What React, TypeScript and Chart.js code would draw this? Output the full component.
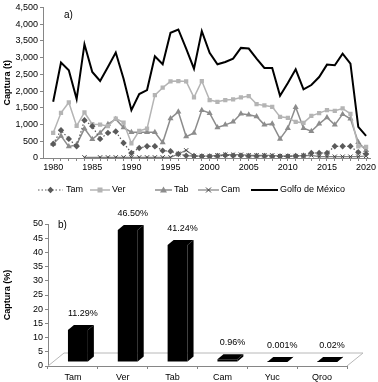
import React, { useEffect, useRef } from 'react';
import { Chart, registerables } from 'chart.js';
Chart.register(...registerables);

const years = [1980, 1981, 1982, 1983, 1984, 1985, 1986, 1987, 1988, 1989, 1990, 1991, 1992, 1993, 1994, 1995, 1996, 1997, 1998, 1999, 2000, 2001, 2002, 2003, 2004, 2005, 2006, 2007, 2008, 2009, 2010, 2011, 2012, 2013, 2014, 2015, 2016, 2017, 2018, 2019, 2020];
const tam = [420, 830, 570, 350, 1130, 950, 570, 750, 790, 450, 150, 300, 350, 350, 220, 200, 120, 70, 60, 50, 50, 60, 80, 70, 70, 60, 60, 60, 50, 50, 50, 60, 70, 150, 150, 150, 350, 350, 350, 170, 120];
const ver = [750, 1350, 1660, 960, 1360, 1010, 1000, 950, 1180, 1060, 440, 810, 880, 1880, 2100, 2290, 2300, 2290, 1810, 2300, 1730, 1680, 1730, 1750, 1810, 1850, 1610, 1570, 1530, 1230, 1200, 1080, 1050, 1260, 1340, 1430, 1410, 1480, 1320, 350, 330];
const tab = [420, 660, 340, 400, 880, 560, 750, 1010, 1160, 910, 770, 770, 770, 770, 460, 1180, 1380, 640, 750, 1430, 1340, 910, 990, 1080, 1320, 1290, 1240, 990, 1020, 570, 890, 1520, 890, 800, 1020, 1210, 990, 1310, 1170, 470, 230];
const cam = [null, null, null, null, 20, null, 20, 20, 20, 20, 20, 20, 20, 20, 20, 20, 120, 230, 60, 60, 60, 80, 100, 100, 100, 80, 80, 80, 80, 60, 60, 60, 70, 80, 40, 40, 40, 40, 40, 40, 60];
const golfo = [1680, 2850, 2620, 1760, 3400, 2570, 2300, 2720, 3150, 2370, 1430, 1910, 2030, 3040, 2800, 3740, 3840, 3270, 2670, 3790, 3140, 2800, 2870, 2970, 3290, 3270, 2970, 2690, 2690, 1860, 2240, 2650, 2050, 2180, 2420, 2790, 2770, 3120, 2820, 930, 660];
const yTicksA = [0, 500, 1000, 1500, 2000, 2500, 3000, 3500, 4000, 4500];

const states = ['Tam', 'Ver', 'Tab', 'Cam', 'Yuc', 'Qroo'];
const pct = [11.29, 46.5, 41.24, 0.96, 0.001, 0.02];
const pctLabels = ['11.29%', '46.50%', '41.24%', '0.96%', '0.001%', '0.02%'];
const yTicksB = [0, 5, 10, 15, 20, 25, 30, 35, 40, 45, 50];

const FONT = "'Liberation Sans', Arial, sans-serif";
const AXIS = '#868686';

function toPts(arr: (number | null)[]) {
  return years.map((y, i) => ({ x: y, y: arr[i] }));
}

function drawMarker(ctx: CanvasRenderingContext2D, style: string, x: number, y: number, color: string) {
  ctx.save();
  ctx.fillStyle = color;
  ctx.strokeStyle = color;
  ctx.beginPath();
  if (style === 'rectRot') {
    const r = 3.2;
    ctx.moveTo(x, y - r); ctx.lineTo(x + r, y); ctx.lineTo(x, y + r); ctx.lineTo(x - r, y); ctx.closePath(); ctx.fill();
  } else if (style === 'rect') {
    ctx.fillRect(x - 2.5, y - 2.5, 5, 5);
  } else if (style === 'triangle') {
    ctx.moveTo(x, y - 3.5); ctx.lineTo(x + 3.5, y + 2.5); ctx.lineTo(x - 3.5, y + 2.5); ctx.closePath(); ctx.fill();
  } else if (style === 'crossRot') {
    ctx.lineWidth = 1;
    ctx.moveTo(x - 2.5, y - 2.5); ctx.lineTo(x + 2.5, y + 2.5);
    ctx.moveTo(x + 2.5, y - 2.5); ctx.lineTo(x - 2.5, y + 2.5);
    ctx.stroke();
  }
  ctx.restore();
}

const legendPlugin = {
  id: 'customLegend',
  afterDraw(chart: any) {
    const ctx = chart.ctx as CanvasRenderingContext2D;
    const items = [
      { x0: 38, x1: 63, tx: 66 },
      { x0: 90, x1: 110, tx: 112 },
      { x0: 155, x1: 172, tx: 174 },
      { x0: 198, x1: 219, tx: 221 },
      { x0: 251, x1: 278, tx: 280 },
    ];
    const y = 190;
    chart.data.datasets.forEach((ds: any, i: number) => {
      const it = items[i];
      ctx.save();
      ctx.strokeStyle = ds.borderColor;
      ctx.lineWidth = ds.borderWidth;
      ctx.setLineDash(ds.borderDash || []);
      ctx.beginPath();
      ctx.moveTo(it.x0, y);
      ctx.lineTo(it.x1, y);
      ctx.stroke();
      ctx.restore();
      if (ds.pointRadius > 0) {
        drawMarker(ctx, ds.pointStyle, (it.x0 + it.x1) / 2, y, ds.pointBorderColor || ds.borderColor);
      }
      ctx.save();
      ctx.fillStyle = '#000';
      ctx.font = `9px ${FONT}`;
      ctx.textBaseline = 'middle';
      ctx.textAlign = 'left';
      ctx.fillText(ds.label, it.tx, y);
      ctx.restore();
    });
    ctx.save();
    ctx.fillStyle = '#000';
    ctx.font = `10px ${FONT}`;
    ctx.textBaseline = 'middle';
    ctx.fillText('a)', 64, 15);
    ctx.restore();
  },
};

const DX = 6, DY = -5, SX = 5, SY = -4;
const bar3dPlugin = {
  id: 'bar3d',
  beforeDatasetsDraw(chart: any) {
    const ctx = chart.ctx as CanvasRenderingContext2D;
    const { left, right, bottom } = chart.chartArea;
    ctx.save();
    ctx.strokeStyle = '#b8b8b8';
    ctx.lineWidth = 1;
    ctx.beginPath();
    ctx.moveTo(left, bottom);
    ctx.lineTo(left + 16, bottom - 13);
    ctx.lineTo(right + 16, bottom - 13);
    ctx.lineTo(right, bottom);
    ctx.stroke();
    ctx.restore();
    ctx.save();
    ctx.translate(SX, SY);
  },
  afterDatasetsDraw(chart: any) {
    const ctx = chart.ctx as CanvasRenderingContext2D;
    const meta = chart.getDatasetMeta(0);
    ctx.fillStyle = '#000';
    meta.data.forEach((b: any) => {
      const l = b.x - b.width / 2, r = b.x + b.width / 2;
      ctx.beginPath();
      ctx.moveTo(l, b.y); ctx.lineTo(l + DX, b.y + DY); ctx.lineTo(r + DX, b.y + DY); ctx.lineTo(r, b.y); ctx.closePath(); ctx.fill();
      ctx.beginPath();
      ctx.moveTo(r, b.y); ctx.lineTo(r + DX, b.y + DY); ctx.lineTo(r + DX, b.base + DY); ctx.lineTo(r, b.base); ctx.closePath(); ctx.fill();
    });
    ctx.restore();
    ctx.save();
    ctx.fillStyle = '#000';
    ctx.font = `9px ${FONT}`;
    ctx.textAlign = 'center';
    ctx.textBaseline = 'bottom';
    meta.data.forEach((b: any, i: number) => {
      ctx.fillText(pctLabels[i], b.x + SX + DX / 2 + 2, b.y + SY + DY - 7);
    });
    ctx.fillStyle = '#000';
    ctx.font = `10px ${FONT}`;
    ctx.textAlign = 'left';
    ctx.textBaseline = 'middle';
    ctx.fillText('b)', 58, 25);
    ctx.restore();
  },
};

export default function App() {
  const refA = useRef<HTMLCanvasElement>(null);
  const refB = useRef<HTMLCanvasElement>(null);

  useEffect(() => {
    const tickFont = { family: FONT, size: 9 };
    const titleFont = { family: FONT, size: 9, weight: 'bold' as const };
    const chartA = new Chart(refA.current!, {
      type: 'line',
      data: {
        datasets: [
          { label: 'Tam', data: toPts(tam), borderColor: '#5a5a5a', backgroundColor: '#5a5a5a', borderWidth: 1.2, borderDash: [1.5, 2], pointStyle: 'rectRot', pointRadius: 3.2, pointBorderWidth: 0, pointBackgroundColor: '#5a5a5a' },
          { label: 'Ver', data: toPts(ver), borderColor: '#b4b4b4', backgroundColor: '#b4b4b4', borderWidth: 1.5, pointStyle: 'rect', pointRadius: 3, pointBorderWidth: 0, pointBackgroundColor: '#b4b4b4' },
          { label: 'Tab', data: toPts(tab), borderColor: '#8c8c8c', backgroundColor: '#8c8c8c', borderWidth: 1.5, pointStyle: 'triangle', pointRadius: 3.5, pointBorderWidth: 0, pointBackgroundColor: '#8c8c8c' },
          { label: 'Cam', data: toPts(cam), borderColor: '#808080', backgroundColor: '#808080', borderWidth: 1.2, pointStyle: 'crossRot', pointRadius: 3, pointBorderWidth: 1, pointBorderColor: '#404040', spanGaps: true },
          { label: 'Golfo de México', data: toPts(golfo), borderColor: '#000000', backgroundColor: '#000000', borderWidth: 2, pointRadius: 0 },
        ] as any,
      },
      options: {
        animation: false,
        responsive: false,
        devicePixelRatio: 1,
        layout: { padding: { top: 7, right: 8, left: 0, bottom: 0 } },
        plugins: { legend: { display: false }, tooltip: { enabled: false } },
        elements: { line: { tension: 0 } },
        scales: {
          x: {
            type: 'linear', min: 1978.7, max: 2020.5,
            afterBuildTicks: (s: any) => { s.ticks = years.map((v) => ({ value: v })); },
            afterFit: (s: any) => { s.height = 42; },
            ticks: { autoSkip: false, maxRotation: 0, font: tickFont, color: '#000', padding: 1, callback: (v: any) => (v % 5 === 0 ? String(v) : '') },
            grid: { drawOnChartArea: false, drawTicks: true, tickLength: 3, color: AXIS },
            border: { color: AXIS },
          },
          y: {
            min: 0, max: 4500,
            afterBuildTicks: (s: any) => { s.ticks = yTicksA.map((v) => ({ value: v })); },
            afterFit: (s: any) => { s.width = 43; },
            ticks: { font: tickFont, color: '#000', padding: 2, callback: (v: any) => Number(v).toLocaleString('en-US') },
            grid: { drawOnChartArea: false, drawTicks: true, tickLength: 3, color: AXIS },
            border: { color: AXIS },
            title: { display: true, text: 'Captura (t)', font: titleFont, color: '#000', padding: { top: 2, bottom: 2 } },
          },
        },
      } as any,
      plugins: [legendPlugin],
    });

    const chartB = new Chart(refB.current!, {
      type: 'bar',
      data: {
        labels: states,
        datasets: [{ label: 'Captura (%)', data: pct, backgroundColor: '#000000', borderWidth: 0, barPercentage: 0.4, categoryPercentage: 1.0 }],
      },
      options: {
        animation: false,
        responsive: false,
        devicePixelRatio: 1,
        layout: { padding: { top: 24, right: 31, left: 0, bottom: 0 } },
        plugins: { legend: { display: false }, tooltip: { enabled: false } },
        scales: {
          x: {
            afterFit: (s: any) => { s.height = 16; },
            ticks: { font: tickFont, color: '#000', padding: 3 },
            grid: { offset: true, drawOnChartArea: false, drawTicks: true, tickLength: 3, color: AXIS },
            border: { color: AXIS },
          },
          y: {
            min: 0, max: 50,
            afterBuildTicks: (s: any) => { s.ticks = yTicksB.map((v) => ({ value: v })); },
            afterFit: (s: any) => { s.width = 48; },
            ticks: { font: tickFont, color: '#000', padding: 2 },
            grid: { drawOnChartArea: false, drawTicks: true, tickLength: 3, color: AXIS },
            border: { color: AXIS },
            title: { display: true, text: 'Captura (%)', font: titleFont, color: '#000', padding: { top: 2, bottom: 2 } },
          },
        },
      } as any,
      plugins: [bar3dPlugin],
    });

    return () => { chartA.destroy(); chartB.destroy(); };
  }, []);

  return (
    <div style={{ position: 'absolute', left: 0, top: 0, width: 378, height: 382, background: '#fff' }}>
      <canvas ref={refA} width={378} height={200} style={{ position: 'absolute', left: 0, top: 0, width: 378, height: 200 }} />
      <canvas ref={refB} width={378} height={182} style={{ position: 'absolute', left: 0, top: 200, width: 378, height: 182 }} />
    </div>
  );
}
